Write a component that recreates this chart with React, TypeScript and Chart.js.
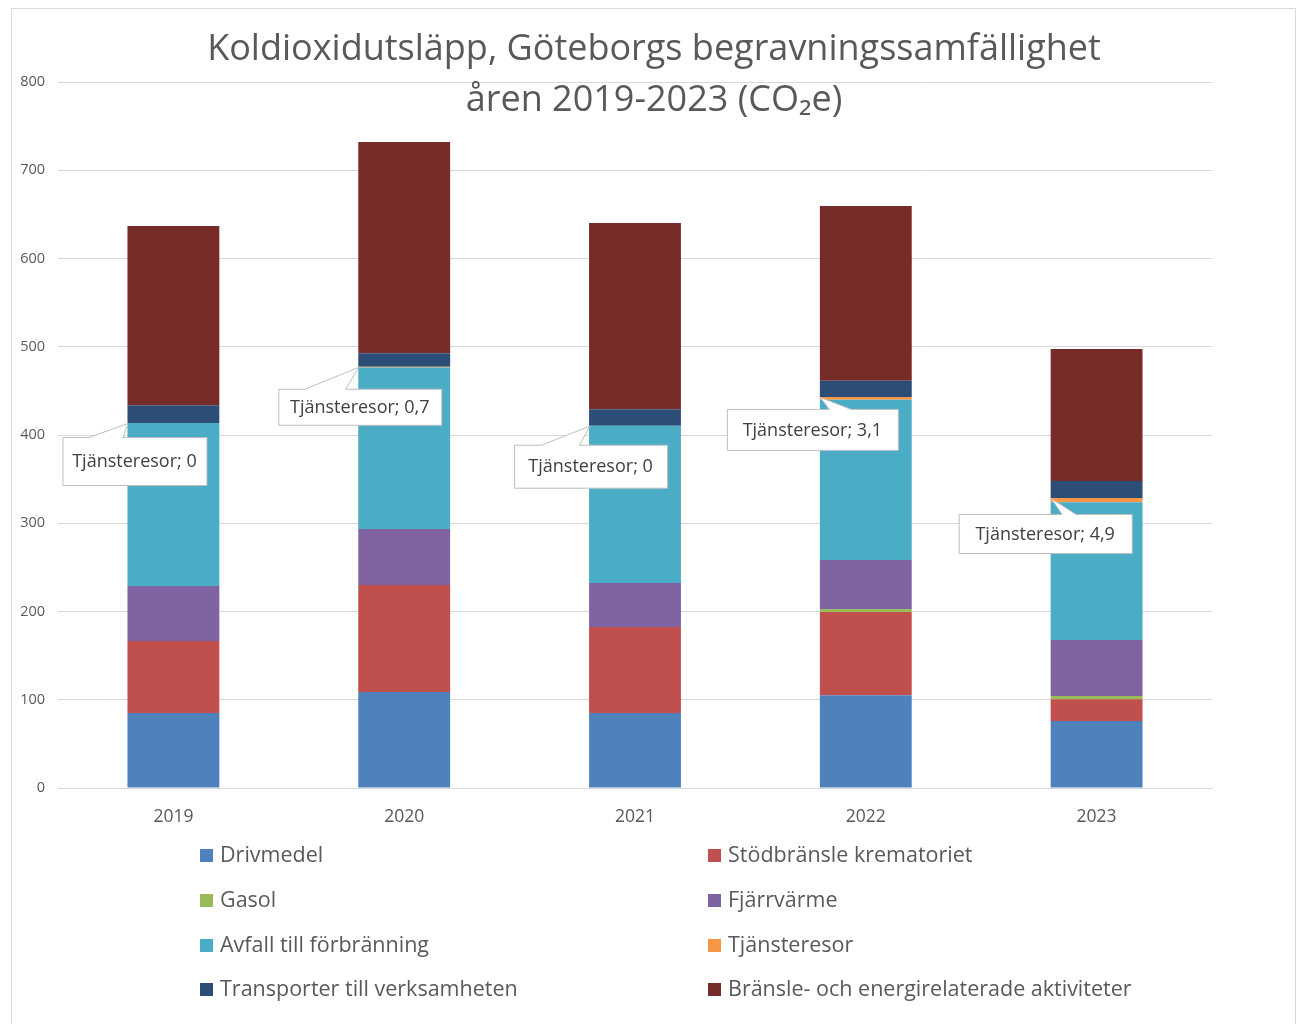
import React, { useEffect, useRef } from "react";
import { Chart, registerables } from "chart.js";

Chart.register(...registerables);

const years = ["2019", "2020", "2021", "2022", "2023"];
const drivmedel = [85, 108.8, 85, 105, 75.9];
const stodbransle = [81.6, 121.2, 97.4, 94.4, 24.6];
const gasol = [0, 0, 0, 3.4, 3.7];
const fjarrvarme = [62.3, 63.5, 49.9, 55.6, 63.5];
const avfall = [184.7, 183.1, 178.2, 181.6, 156];
const tjansteresor = [0, 0.7, 0, 3.1, 4.9];
const transporter = [20, 15.2, 18.6, 18.5, 19.2];
const bransle = [203.2, 239.5, 211, 197.9, 149.7];

const seriesNames = [
  "Drivmedel",
  "Stödbränsle krematoriet",
  "Gasol",
  "Fjärrvärme",
  "Avfall till förbränning",
  "Tjänsteresor",
  "Transporter till verksamheten",
  "Bränsle- och energirelaterade aktiviteter",
];
const seriesColors = ["#4F81BD", "#C0504D", "#9BBB59", "#8064A2", "#4BACC6", "#F79646", "#2C4D75", "#772C2A"];
const titleLines = ["Koldioxidutsläpp, Göteborgs begravningssamfällighet", "åren 2019-2023 (CO₂e)"];
const yMin = 0;
const yMax = 800;
const yStep = 100;

// callout box geometry relative to the tip (left-top corner of the Tjänsteresor segment)
const calloutGeom = [
  { dx: -65, dy: 14, w: 144, h: 48, w0: -39, w1: -5 },
  { dx: -80, dy: 22, w: 163, h: 36, w0: -54, w1: -13 },
  { dx: -75, dy: 19, w: 153, h: 43, w0: -48, w1: -10 },
  { dx: -93, dy: 12, w: 171, h: 41, w0: 9, w1: 31 },
  { dx: -92, dy: 16, w: 173, h: 39, w0: 11, w1: 25 },
];

const FONT = "'Open Sans', 'Noto Sans', sans-serif";
const TEXT = "#595959";

const framePlugin = {
  id: "frame",
  beforeDraw(chart: any) {
    const ctx = chart.ctx;
    ctx.save();
    ctx.fillStyle = "#ffffff";
    ctx.fillRect(0, 0, chart.width, chart.height);
    ctx.strokeStyle = "#d9d9d9";
    ctx.lineWidth = 1;
    ctx.strokeRect(11.5, 8.5, 1284, 1040);
    ctx.restore();
  },
};

const decorPlugin = {
  id: "decor",
  afterDraw(chart: any) {
    const ctx = chart.ctx;
    ctx.save();
    // title
    ctx.fillStyle = TEXT;
    ctx.textAlign = "center";
    ctx.textBaseline = "middle";
    ctx.font = `36px ${FONT}`;
    ctx.fillText(titleLines[0], 654, 50);
    ctx.fillText(titleLines[1], 654, 101);

    // callouts
    const meta = chart.getDatasetMeta(5);
    ctx.font = `18px ${FONT}`;
    meta.data.forEach((el: any, i: number) => {
      const g = calloutGeom[i];
      const tx = el.x - el.width / 2;
      const ty = el.y;
      const bx = tx + g.dx;
      const by = ty + g.dy;
      ctx.beginPath();
      ctx.moveTo(bx + 0.5, by + 0.5);
      ctx.lineTo(tx + g.w0 + 0.5, by + 0.5);
      ctx.lineTo(tx + 0.5, ty + 0.5);
      ctx.lineTo(tx + g.w1 + 0.5, by + 0.5);
      ctx.lineTo(bx + g.w + 0.5, by + 0.5);
      ctx.lineTo(bx + g.w + 0.5, by + g.h + 0.5);
      ctx.lineTo(bx + 0.5, by + g.h + 0.5);
      ctx.closePath();
      ctx.fillStyle = "#ffffff";
      ctx.fill();
      ctx.strokeStyle = "#bfbfbf";
      ctx.lineWidth = 1;
      ctx.stroke();
      const v = tjansteresor[i];
      const label = `${seriesNames[5]}; ${String(v).replace(".", ",")}`;
      ctx.fillStyle = "#404040";
      ctx.textAlign = "center";
      ctx.textBaseline = "middle";
      ctx.fillText(label, bx + g.w / 2, by + g.h / 2 + 1);
    });

    // legend (2 columns)
    const rowsY = [855, 900, 945, 989];
    const colsX = [200, 708];
    ctx.font = `21.5px ${FONT}`;
    ctx.textAlign = "left";
    ctx.textBaseline = "middle";
    chart.data.datasets.forEach((ds: any, i: number) => {
      const x = colsX[i % 2];
      const y = rowsY[Math.floor(i / 2)];
      ctx.fillStyle = ds.backgroundColor;
      ctx.fillRect(x, y - 6, 13, 13);
      ctx.fillStyle = TEXT;
      ctx.fillText(ds.label, x + 20, y + 1);
    });
    ctx.restore();
  },
};

export default function App() {
  const ref = useRef<HTMLCanvasElement>(null);
  useEffect(() => {
    if (!ref.current) return;
    const values = [drivmedel, stodbransle, gasol, fjarrvarme, avfall, tjansteresor, transporter, bransle];
    const chart = new Chart(ref.current, {
      type: "bar",
      data: {
        labels: years,
        datasets: values.map((d, i) => ({
          label: seriesNames[i],
          data: d,
          backgroundColor: seriesColors[i],
          borderWidth: 0,
          categoryPercentage: 1,
          barPercentage: 0.398,
        })),
      },
      options: {
        responsive: false,
        animation: false,
        devicePixelRatio: 1,
        layout: { padding: { top: 82, left: 12, right: 86, bottom: 196 } },
        plugins: {
          legend: { display: false },
          title: { display: false },
          tooltip: { enabled: false },
        },
        scales: {
          x: {
            stacked: true,
            grid: { display: false },
            border: { color: "#d9d9d9" },
            ticks: { padding: 11, color: TEXT, font: { size: 17.5, family: FONT } },
            afterFit: (s: any) => {
              s.height = 40;
            },
          },
          y: {
            stacked: true,
            min: yMin,
            max: yMax,
            ticks: { stepSize: yStep, padding: 13, color: TEXT, font: { size: 14.5, family: FONT } },
            grid: { color: "#d9d9d9", drawTicks: false },
            border: { display: false },
            afterFit: (s: any) => {
              s.width = 46;
            },
          },
        },
      },
      plugins: [framePlugin, decorPlugin],
    });
    return () => chart.destroy();
  }, []);
  return (
    <div style={{ position: "absolute", left: 0, top: 0, width: 1298, height: 1024 }}>
      <canvas ref={ref} width={1298} height={1024} />
    </div>
  );
}
